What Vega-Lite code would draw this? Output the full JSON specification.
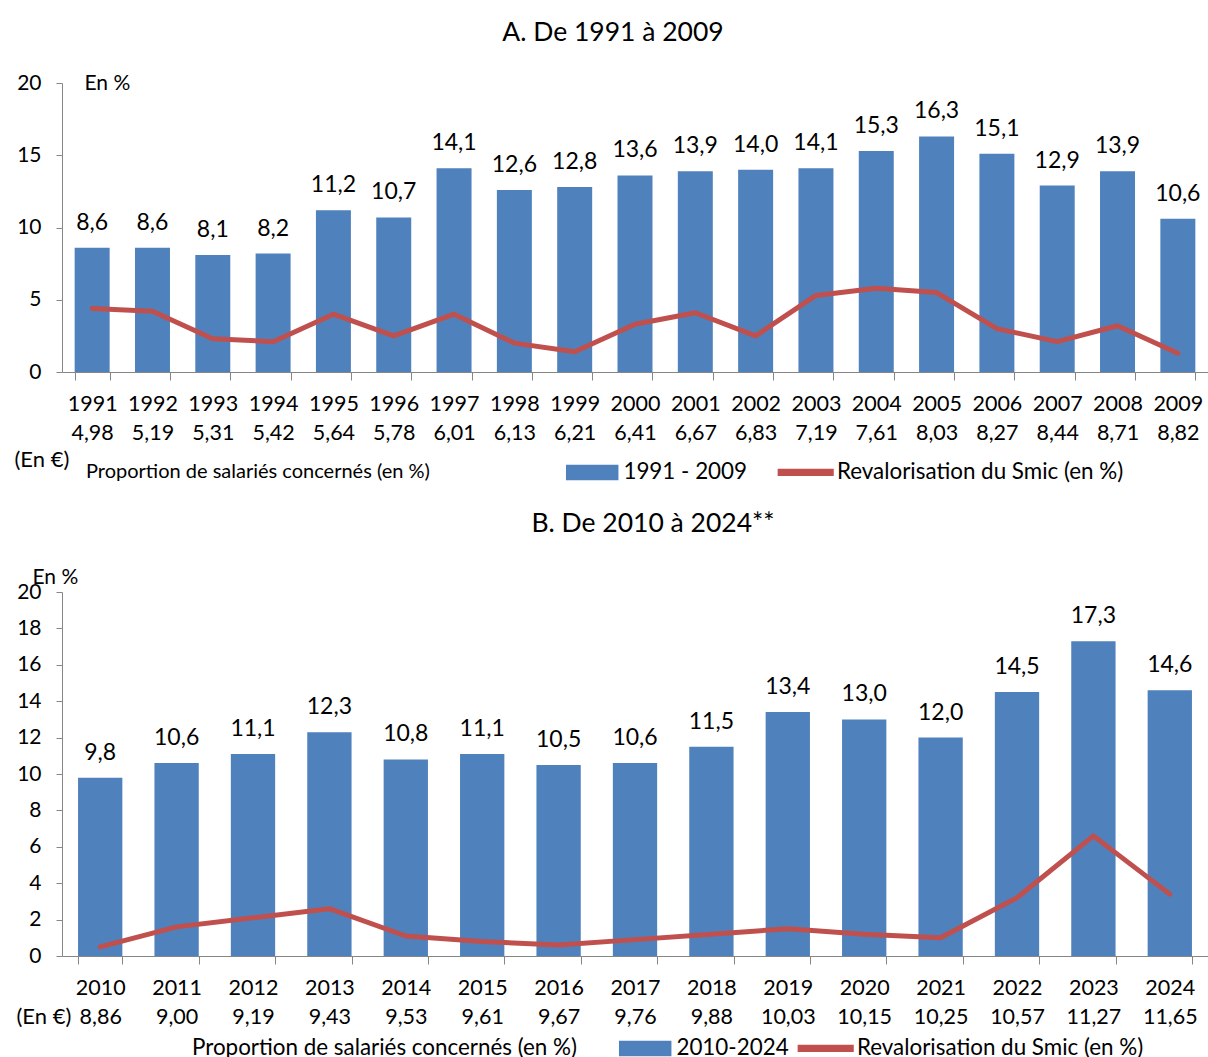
{
  "$schema": "https://vega.github.io/schema/vega-lite/v6.json",
  "padding": {"left": 14, "top": 19, "right": 0, "bottom": 0},
  "config": {
    "font": "Lato",
    "view": {"stroke": null},
    "locale": {"number": {"decimal": ",", "thousands": " ", "grouping": [3], "currency": ["", " €"]}},
    "axis": {"labelFont": "Lato", "labelColor": "#000000", "domainColor": "#868686", "tickColor": "#868686", "grid": false, "titleFont": "Lato", "titleFontWeight": "normal", "titleColor": "#000000", "labelOverlap": false},
    "legend": {"labelFont": "Lato", "titleFont": "Lato", "titleFontWeight": "normal", "labelColor": "#000000", "titleColor": "#000000"},
    "title": {"font": "Lato", "fontWeight": "normal", "color": "#000000"}
  },
  "spacing": 26,
  "resolve": {"scale": {"color": "independent", "x": "independent", "y": "independent"}, "legend": {"color": "independent"}},
  "vconcat": [
    {
      "title": {"text": "A. De 1991 à 2009", "fontSize": 26.5, "dx": -22, "offset": 26},
      "width": 1146,
      "height": 289,
      "data": {"values": [
        {"annee": "1991", "smic": "4,98", "proportion": 8.6, "revalo": 4.4},
        {"annee": "1992", "smic": "5,19", "proportion": 8.6, "revalo": 4.2},
        {"annee": "1993", "smic": "5,31", "proportion": 8.1, "revalo": 2.3},
        {"annee": "1994", "smic": "5,42", "proportion": 8.2, "revalo": 2.1},
        {"annee": "1995", "smic": "5,64", "proportion": 11.2, "revalo": 4.0},
        {"annee": "1996", "smic": "5,78", "proportion": 10.7, "revalo": 2.5},
        {"annee": "1997", "smic": "6,01", "proportion": 14.1, "revalo": 4.0},
        {"annee": "1998", "smic": "6,13", "proportion": 12.6, "revalo": 2.0},
        {"annee": "1999", "smic": "6,21", "proportion": 12.8, "revalo": 1.4},
        {"annee": "2000", "smic": "6,41", "proportion": 13.6, "revalo": 3.3},
        {"annee": "2001", "smic": "6,67", "proportion": 13.9, "revalo": 4.1},
        {"annee": "2002", "smic": "6,83", "proportion": 14.0, "revalo": 2.5},
        {"annee": "2003", "smic": "7,19", "proportion": 14.1, "revalo": 5.3},
        {"annee": "2004", "smic": "7,61", "proportion": 15.3, "revalo": 5.8},
        {"annee": "2005", "smic": "8,03", "proportion": 16.3, "revalo": 5.5},
        {"annee": "2006", "smic": "8,27", "proportion": 15.1, "revalo": 3.0},
        {"annee": "2007", "smic": "8,44", "proportion": 12.9, "revalo": 2.1},
        {"annee": "2008", "smic": "8,71", "proportion": 13.9, "revalo": 3.2},
        {"annee": "2009", "smic": "8,82", "proportion": 10.6, "revalo": 1.3}
      ]},
      "transform": [{"calculate": "datum.annee + '|' + datum.smic", "as": "cat"}],
      "encoding": {
        "x": {"field": "cat", "type": "ordinal", "sort": "ascending",
          "scale": {"paddingInner": 0.42, "paddingOuter": 0.21},
          "axis": {"labelExpr": "datum.value ? split(datum.value, '|') : ''", "labelAngle": 0, "labelFontSize": 21.5, "labelLineHeight": 29, "labelPadding": 13, "tickSize": 8, "tickBand": "extent",
            "title": "(En €)", "titleFontSize": 22, "titleX": -48, "titleY": 87, "titleAlign": "left", "titleBaseline": "middle", "titleAnchor": "start"}}
      },
      "layer": [
        {
          "mark": {"type": "bar"},
          "encoding": {
            "y": {"field": "proportion", "type": "quantitative", "scale": {"domain": [0, 20], "nice": false},
              "axis": {"values": [0, 5, 10, 15, 20], "labelOverlap": false, "labelFontSize": 21, "labelPadding": 15, "tickSize": 6,
                "title": "En %", "titleFontSize": 21, "titleAngle": 0, "titleX": 22, "titleY": 0, "titleAlign": "left", "titleBaseline": "middle"}},
            "color": {"datum": "1991 - 2009", "type": "nominal",
              "scale": {"domain": ["1991 - 2009", "Revalorisation du Smic (en %)"], "range": ["#4F81BD", "#C0504D"]},
              "legend": {"title": "Proportion de salariés concernés (en %)", "orient": "none", "legendX": 24, "legendY": 378, "direction": "horizontal", "titleOrient": "left", "titleBaseline": "middle",
                "titleFontSize": 20, "labelFontSize": 22.4, "titleLimit": 700, "labelLimit": 600, "titlePadding": 151, "columnPadding": 26.5, "labelOffset": 20, "symbolSize": 196,
                "encode": {
                  "symbols": {"update": {
                  "shape": {"signal": "datum.value === 'Revalorisation du Smic (en %)' ? 'M-3.9,-0.4H3.9V0.4H-3.9Z' : 'M-3.64,-1H3.64V1H-3.64Z'"},
                  "fill": {"signal": "datum.value === 'Revalorisation du Smic (en %)' ? '#C0504D' : '#4F81BD'"},
                  "stroke": {"value": "transparent"}, "opacity": {"value": 1}, "fillOpacity": {"value": 1}}}}}}
          }
        },
        {
          "mark": {"type": "line", "strokeWidth": 5, "strokeCap": "round", "strokeJoin": "round"},
          "encoding": {
            "y": {"field": "revalo", "type": "quantitative", "scale": {"domain": [0, 20], "nice": false},
              "axis": {"values": [0, 5, 10, 15, 20], "labelOverlap": false, "labelFontSize": 21, "labelPadding": 15, "tickSize": 6,
                "title": "En %", "titleFontSize": 21, "titleAngle": 0, "titleX": 22, "titleY": 0, "titleAlign": "left", "titleBaseline": "middle"}},
            "color": {"datum": "Revalorisation du Smic (en %)", "type": "nominal"}
          }
        },
        {
          "mark": {"type": "text", "baseline": "alphabetic", "dy": -18, "fontSize": 23, "color": "#000000"},
          "encoding": {
            "y": {"field": "proportion", "type": "quantitative", "scale": {"domain": [0, 20], "nice": false},
              "axis": {"values": [0, 5, 10, 15, 20], "labelOverlap": false, "labelFontSize": 21, "labelPadding": 15, "tickSize": 6,
                "title": "En %", "titleFontSize": 21, "titleAngle": 0, "titleX": 22, "titleY": 0, "titleAlign": "left", "titleBaseline": "middle"}},
            "text": {"field": "proportion", "type": "quantitative", "format": ".1f"}
          }
        }
      ]
    },
    {
      "title": {"text": "B. De 2010 à 2024**", "fontSize": 26.5, "dx": 18, "offset": 29},
      "width": 1146,
      "height": 364,
      "data": {"values": [
        {"annee": "2010", "smic": "8,86", "proportion": 9.8, "revalo": 0.5},
        {"annee": "2011", "smic": "9,00", "proportion": 10.6, "revalo": 1.6},
        {"annee": "2012", "smic": "9,19", "proportion": 11.1, "revalo": 2.1},
        {"annee": "2013", "smic": "9,43", "proportion": 12.3, "revalo": 2.6},
        {"annee": "2014", "smic": "9,53", "proportion": 10.8, "revalo": 1.1},
        {"annee": "2015", "smic": "9,61", "proportion": 11.1, "revalo": 0.8},
        {"annee": "2016", "smic": "9,67", "proportion": 10.5, "revalo": 0.6},
        {"annee": "2017", "smic": "9,76", "proportion": 10.6, "revalo": 0.9},
        {"annee": "2018", "smic": "9,88", "proportion": 11.5, "revalo": 1.2},
        {"annee": "2019", "smic": "10,03", "proportion": 13.4, "revalo": 1.5},
        {"annee": "2020", "smic": "10,15", "proportion": 13.0, "revalo": 1.2},
        {"annee": "2021", "smic": "10,25", "proportion": 12.0, "revalo": 1.0},
        {"annee": "2022", "smic": "10,57", "proportion": 14.5, "revalo": 3.2},
        {"annee": "2023", "smic": "11,27", "proportion": 17.3, "revalo": 6.6},
        {"annee": "2024", "smic": "11,65", "proportion": 14.6, "revalo": 3.4}
      ]},
      "transform": [{"calculate": "datum.annee + '|' + datum.smic", "as": "cat"}],
      "encoding": {
        "x": {"field": "cat", "type": "ordinal", "sort": "ascending",
          "scale": {"paddingInner": 0.42, "paddingOuter": 0.21},
          "axis": {"labelExpr": "datum.value ? split(datum.value, '|') : ''", "labelAngle": 0, "labelFontSize": 21.5, "labelLineHeight": 29, "labelPadding": 13, "tickSize": 8, "tickBand": "extent",
            "title": "(En €)", "titleFontSize": 22, "titleX": -46, "titleY": 60, "titleAlign": "left", "titleBaseline": "middle", "titleAnchor": "start"}}
      },
      "layer": [
        {
          "mark": {"type": "bar"},
          "encoding": {
            "y": {"field": "proportion", "type": "quantitative", "scale": {"domain": [0, 20], "nice": false},
              "axis": {"values": [0, 2, 4, 6, 8, 10, 12, 14, 16, 18, 20], "labelOverlap": false, "labelFontSize": 21, "labelPadding": 15, "tickSize": 6,
                "title": "En %", "titleFontSize": 21, "titleAngle": 0, "titleX": -30, "titleY": -15, "titleAlign": "left", "titleBaseline": "middle"}},
            "color": {"datum": "2010-2024", "type": "nominal",
              "scale": {"domain": ["2010-2024", "Revalorisation du Smic (en %)"], "range": ["#4F81BD", "#C0504D"]},
              "legend": {"title": "Proportion de salariés concernés (en %)", "orient": "none", "legendX": 130, "legendY": 445, "direction": "horizontal", "titleOrient": "left", "titleBaseline": "middle",
                "titleFontSize": 22.4, "labelFontSize": 22.4, "titleLimit": 700, "labelLimit": 600, "titlePadding": 57, "columnPadding": 5.5, "labelOffset": 20, "symbolSize": 196,
                "encode": {
                  "symbols": {"update": {
                  "shape": {"signal": "datum.value === 'Revalorisation du Smic (en %)' ? 'M-3.9,-0.4H3.9V0.4H-3.9Z' : 'M-3.64,-1H3.64V1H-3.64Z'"},
                  "fill": {"signal": "datum.value === 'Revalorisation du Smic (en %)' ? '#C0504D' : '#4F81BD'"},
                  "stroke": {"value": "transparent"}, "opacity": {"value": 1}, "fillOpacity": {"value": 1}}}}}}
          }
        },
        {
          "mark": {"type": "line", "strokeWidth": 5, "strokeCap": "round", "strokeJoin": "round"},
          "encoding": {
            "y": {"field": "revalo", "type": "quantitative", "scale": {"domain": [0, 20], "nice": false},
              "axis": {"values": [0, 2, 4, 6, 8, 10, 12, 14, 16, 18, 20], "labelOverlap": false, "labelFontSize": 21, "labelPadding": 15, "tickSize": 6,
                "title": "En %", "titleFontSize": 21, "titleAngle": 0, "titleX": -30, "titleY": -15, "titleAlign": "left", "titleBaseline": "middle"}},
            "color": {"datum": "Revalorisation du Smic (en %)", "type": "nominal"}
          }
        },
        {
          "mark": {"type": "text", "baseline": "alphabetic", "dy": -18, "fontSize": 23, "color": "#000000"},
          "encoding": {
            "y": {"field": "proportion", "type": "quantitative", "scale": {"domain": [0, 20], "nice": false},
              "axis": {"values": [0, 2, 4, 6, 8, 10, 12, 14, 16, 18, 20], "labelOverlap": false, "labelFontSize": 21, "labelPadding": 15, "tickSize": 6,
                "title": "En %", "titleFontSize": 21, "titleAngle": 0, "titleX": -30, "titleY": -15, "titleAlign": "left", "titleBaseline": "middle"}},
            "text": {"field": "proportion", "type": "quantitative", "format": ".1f"}
          }
        }
      ]
    }
  ]
}
